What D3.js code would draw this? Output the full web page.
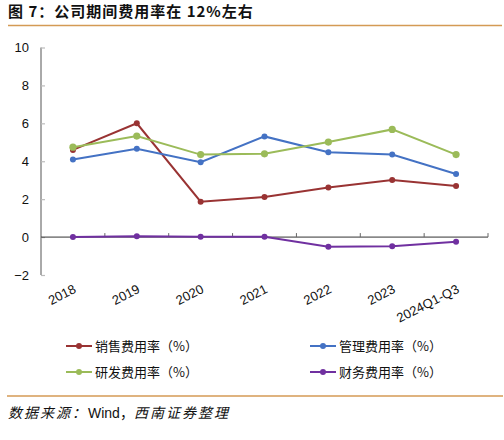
<!DOCTYPE html>
<html>
<head>
<meta charset="utf-8">
<script src="https://cdn.jsdelivr.net/npm/d3@7"></script>
<style>
  body { margin: 0; background: #fff; }
  svg { display: block; font-family: "Liberation Sans", Arial, "Noto Sans CJK SC", sans-serif; }
</style>
</head>
<body>
<div id="chart"></div>
<script>
const years = ["2018", "2019", "2020", "2021", "2022", "2023", "2024Q1-Q3"];
const sales = [4.6, 6.0, 1.87, 2.12, 2.62, 3.01, 2.69];
const admin = [4.09, 4.66, 3.95, 5.31, 4.48, 4.35, 3.33];
const rnd = [4.74, 5.33, 4.35, 4.39, 5.01, 5.68, 4.35];
const finance = [0.0, 0.05, 0.02, 0.02, -0.51, -0.48, -0.25];
const yTicks = [-2, 0, 2, 4, 6, 8, 10];

const series = [
    { name: "销售费用率（%）", values: sales, color: "#993333", r: 3 },
    { name: "管理费用率（%）", values: admin, color: "#4472c4", r: 3 },
    { name: "研发费用率（%）", values: rnd, color: "#9bbb59", r: 3.6 },
    { name: "财务费用率（%）", values: finance, color: "#7030a0", r: 3 }
];

const width = 504, height = 440;
const svg = d3.select("#chart").append("svg")
    .attr("width", width)
    .attr("height", height);

// title + rules
svg.append("text")
    .attr("x", 8).attr("y", 17)
    .attr("font-size", 15).attr("font-weight", "bold")
    .attr("letter-spacing", 1)
    .attr("font-family", "'Noto Sans CJK SC', sans-serif")
    .attr("fill", "#111")
    .text("图 7：公司期间费用率在 12%左右");
svg.append("line").attr("x1", 8).attr("x2", 502).attr("y1", 25.5).attr("y2", 25.5)
    .attr("stroke", "#d49a55").attr("stroke-width", 1.5);
svg.append("line").attr("x1", 7).attr("x2", 503).attr("y1", 396).attr("y2", 396)
    .attr("stroke", "#d49a55").attr("stroke-width", 1.5);

const x = d3.scaleBand().domain(years).range([41, 488]);
const y = d3.scaleLinear().domain([-2, 10]).range([275, 47.5]);

// y axis
svg.append("g")
    .attr("transform", "translate(41,0)")
    .call(d3.axisLeft(y).tickValues(yTicks).tickSize(-4).tickPadding(12))
    .call(g => g.select(".domain").attr("stroke", "#555").attr("d", `M0,${y(10)}V${y(-2)}`))
    .call(g => g.selectAll(".tick line").attr("stroke", "#bbb").attr("stroke-width", 1.2))
    .call(g => g.selectAll(".tick text").attr("font-size", 13).attr("fill", "#111"));

// x axis at zero
const xAxis = svg.append("g")
    .attr("transform", `translate(0,${y(0)})`);
xAxis.append("line").attr("x1", 41).attr("x2", 488).attr("stroke", "#333").attr("stroke-width", 1);
xAxis.selectAll(".xt")
    .data(years.slice(1).concat(["end"]))
    .join("line")
    .attr("class", "xt")
    .attr("x1", (d, i) => i < years.length - 1 ? x(d) : x.range()[1])
    .attr("x2", (d, i) => i < years.length - 1 ? x(d) : x.range()[1])
    .attr("y1", 0).attr("y2", -4)
    .attr("stroke", "#666");

svg.append("g")
    .selectAll("text")
    .data(years)
    .join("text")
    .attr("transform", d => `translate(${x(d) + x.bandwidth() / 2 + 4},${292}) rotate(-27)`)
    .attr("text-anchor", "end")
    .attr("font-size", 13)
    .attr("fill", "#111")
    .text(d => d);

const line = d3.line()
    .x((d, i) => x(years[i]) + x.bandwidth() / 2)
    .y(d => y(d));

series.forEach(s => {
    svg.append("path")
        .attr("d", line(s.values))
        .attr("fill", "none")
        .attr("stroke", s.color)
        .attr("stroke-width", 2);
    svg.append("g")
        .selectAll("circle")
        .data(s.values)
        .join("circle")
        .attr("cx", (d, i) => x(years[i]) + x.bandwidth() / 2)
        .attr("cy", d => y(d))
        .attr("r", s.r)
        .attr("fill", s.color);
});

// legend
const legend = svg.append("g");
const legendPos = [[66, 346], [310, 346], [66, 372], [310, 372]];
series.forEach((s, i) => {
    const [lx, ly] = legendPos[i];
    const g = legend.append("g").attr("transform", `translate(${lx},${ly})`);
    g.append("line").attr("x1", 0).attr("x2", 26).attr("stroke", s.color).attr("stroke-width", 2);
    g.append("circle").attr("cx", 13).attr("r", 3).attr("fill", s.color);
    g.append("text")
        .attr("x", 29).attr("y", 5)
        .attr("font-size", 13)
        .attr("font-family", "'Noto Sans CJK SC', sans-serif")
        .attr("fill", "#111")
        .text(s.name);
});

// source
const src = svg.append("text")
    .attr("x", 8).attr("y", 418)
    .attr("font-size", 14)
    .attr("fill", "#111");
src.append("tspan").attr("font-style", "italic").attr("letter-spacing", 2)
    .attr("font-family", "'Noto Sans CJK SC', sans-serif").text("数据来源：");
src.append("tspan").text("Wind，");
src.append("tspan").attr("font-style", "italic").attr("letter-spacing", 2)
    .attr("font-family", "'Noto Sans CJK SC', sans-serif").text("西南证券整理");
</script>
</body>
</html>
